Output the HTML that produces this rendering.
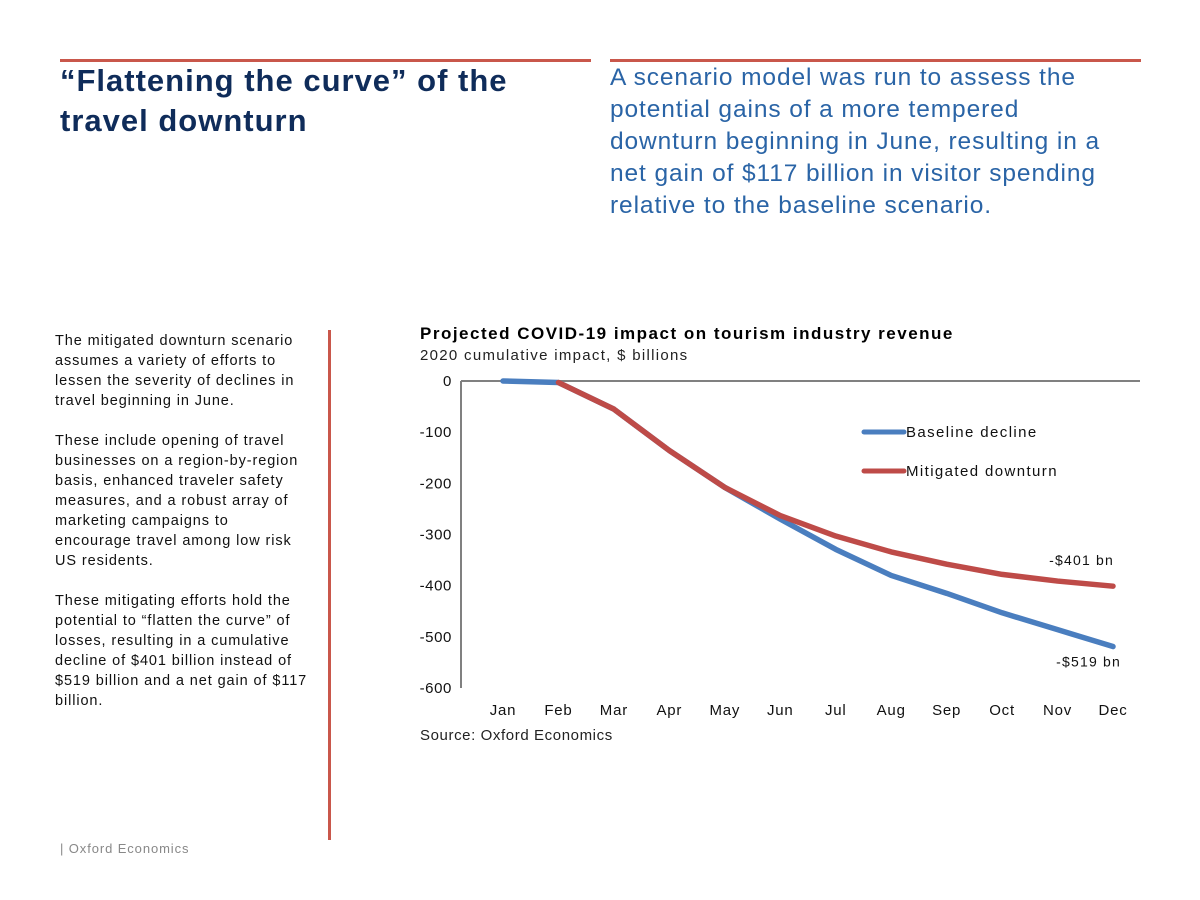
<!DOCTYPE html>
<html><head><meta charset="utf-8"><style>
body{margin:0;width:1200px;height:900px;background:#fff;font-family:"Liberation Sans",sans-serif;position:relative;overflow:hidden}
.a{position:absolute}
</style></head><body>
<div class="a" style="left:60px;top:59px;width:531px;height:3px;background:#c9574b"></div>
<div class="a" style="left:610px;top:59px;width:531px;height:3px;background:#c9574b"></div>
<div class="a" style="left:60px;top:61px;font-size:31px;letter-spacing:1px;font-weight:bold;color:#0f2c5a;line-height:40px;white-space:nowrap">“Flattening the curve” of the<br>travel downturn</div>
<div class="a" style="left:610px;top:62px;font-size:24.5px;letter-spacing:0.9px;color:#2a64a6;line-height:32px;white-space:nowrap">A scenario model was run to assess the<br>potential gains of a more tempered<br>downturn beginning in June, resulting in a<br>net gain of $117 billion in visitor spending<br>relative to the baseline scenario.</div>
<div class="a" style="left:55px;top:331px;font-size:14.5px;letter-spacing:0.9px;color:#111;line-height:20px;white-space:nowrap">
<p style="margin:0 0 20px">The mitigated downturn scenario<br>assumes a variety of efforts to<br>lessen the severity of declines in<br>travel beginning in June.</p>
<p style="margin:0 0 20px">These include opening of travel<br>businesses on a region-by-region<br>basis, enhanced traveler safety<br>measures, and a robust array of<br>marketing campaigns to<br>encourage travel among low risk<br>US residents.</p>
<p style="margin:0">These mitigating efforts hold the<br>potential to “flatten the curve” of<br>losses, resulting in a cumulative<br>decline of $401 billion instead of<br>$519 billion and a net gain of $117<br>billion.</p></div>
<div class="a" style="left:328px;top:330px;width:3px;height:510px;background:#c9574b"></div>
<div class="a" style="left:60px;top:841px;font-size:13px;letter-spacing:0.9px;color:#888">| Oxford Economics</div>
<div class="a" style="left:420px;top:324px;font-size:17px;letter-spacing:1.5px;font-weight:bold;color:#000;white-space:nowrap">Projected COVID-19 impact on tourism industry revenue</div>
<div class="a" style="left:420px;top:347px;font-size:15px;letter-spacing:1.3px;color:#222;white-space:nowrap">2020 cumulative impact, $ billions</div>
<div class="a" style="left:420px;top:727px;font-size:15px;letter-spacing:0.6px;color:#222;white-space:nowrap">Source: Oxford Economics</div>
<svg class="a" style="left:0;top:0" width="1200" height="900" id="chart"></svg>
<script>
const months=["Jan","Feb","Mar","Apr","May","Jun","Jul","Aug","Sep","Oct","Nov","Dec"];
const baseline=[0,-3,-55,-136,-208,-270,-329,-380,-415,-453,-486,-519];
const mitigated=[null,-3,-55,-136,-208,-263,-303,-334,-358,-378,-391,-401];
const yTicks=[0,-100,-200,-300,-400,-500,-600];
const x0=461,x1=1140,y0=381,yScale=307/600;
function X(i){return 503+i*((1113-503)/11);}
function Y(v){return y0-v*yScale;}
const svg=document.getElementById('chart');const NS="http://www.w3.org/2000/svg";
function mk(t,a,txt){const e=document.createElementNS(NS,t);for(const k in a)e.setAttribute(k,a[k]);if(txt!=null)e.textContent=txt;svg.appendChild(e);return e;}
let e=mk('line',{x1:x0,y1:y0,x2:x1,y2:y0,stroke:'#808080','stroke-width':2});


e=mk('line',{x1:x0,y1:y0,x2:x0,y2:Y(-600),stroke:'#808080','stroke-width':2});


yTicks.forEach(t=>{
 e=mk('text',{x:452,y:Y(t)+5,'text-anchor':'end','font-size':15,'letter-spacing':0.6,fill:'#111','font-family':'Liberation Sans'},t);
 
 
});
months.forEach((m,i)=>{
 e=mk('text',{x:X(i),y:715,'text-anchor':'middle','font-size':15,'letter-spacing':0.8,fill:'#111','font-family':'Liberation Sans'},m);
 
 
});
function path(arr){let d='';arr.forEach((v,i)=>{if(v==null)return;d+=(d?'L':'M')+X(i)+','+Y(v);});return d;}
e=mk('path',{d:path(baseline),fill:'none',stroke:'#4a7ebf','stroke-width':5.5,'stroke-linejoin':'round','stroke-linecap':'round'});


e=mk('path',{d:path(mitigated),fill:'none',stroke:'#be4b48','stroke-width':5.5,'stroke-linejoin':'round','stroke-linecap':'round'});


e=mk('line',{x1:864,y1:432,x2:904,y2:432,stroke:'#4a7ebf','stroke-width':5,'stroke-linecap':'round'});


e=mk('text',{x:906,y:437,'font-size':15,'letter-spacing':1.4,fill:'#111','font-family':'Liberation Sans'},'Baseline decline');


e=mk('line',{x1:864,y1:471,x2:904,y2:471,stroke:'#be4b48','stroke-width':5,'stroke-linecap':'round'});


e=mk('text',{x:906,y:476,'font-size':15,'letter-spacing':1.4,fill:'#111','font-family':'Liberation Sans'},'Mitigated downturn');


e=mk('text',{x:1114,y:Y(mitigated[11])-21,'text-anchor':'end','font-size':14,'letter-spacing':1.2,fill:'#111','font-family':'Liberation Sans'},'-$'+(-mitigated[11])+' bn');


e=mk('text',{x:1121,y:Y(baseline[11])+20,'text-anchor':'end','font-size':14,'letter-spacing':1.2,fill:'#111','font-family':'Liberation Sans'},'-$'+(-baseline[11])+' bn');


</script>
</body></html>
